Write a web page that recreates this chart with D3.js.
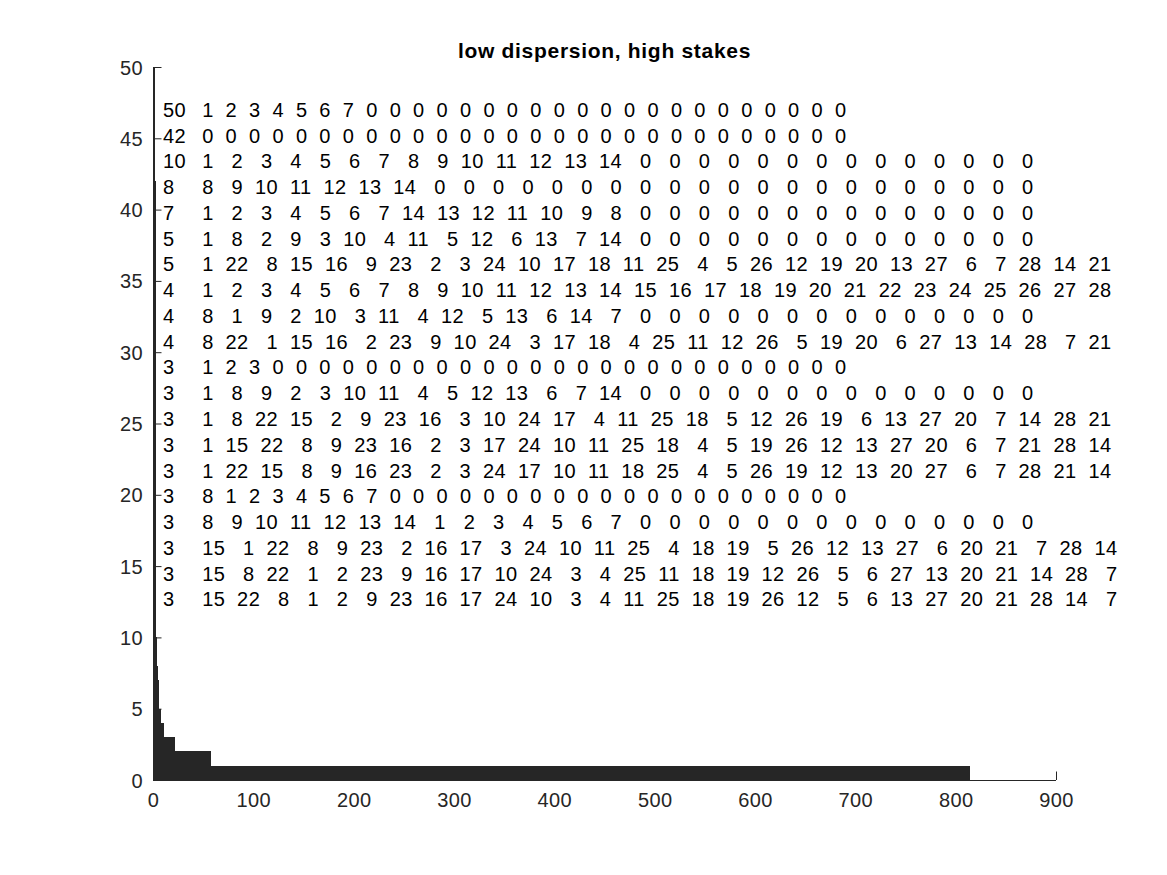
<!DOCTYPE html>
<html>
<head>
<meta charset="utf-8">
<script src="https://cdn.jsdelivr.net/npm/d3@7/dist/d3.min.js"></script>
<style>
body { margin: 0; background: #fff; }
text { font-family: "Liberation Sans", Arial, Helvetica, sans-serif; }
</style>
</head>
<body>
<svg id="chart" width="1167" height="875"></svg>
<script>
const WIDTH  = 1167;
const HEIGHT = 875;
const PLOT = { left: 153, right: 1056, top: 67, bottom: 780 };
const FONTSIZE = "20px";
const SPACING  = "0.4px";

const TITLE = "low dispersion, high stakes";

// sorted bar heights, as runs of [height, how many bars]
const barRuns = [[50,1],[42,1],[10,1],[8,1],[7,1],[5,2],[4,3],[3,11],[2,36],[1,756]];

const xTicks = [0,100,200,300,400,500,600,700,800,900];
const yTicks = [0,5,10,15,20,25,30,35,40,45,50];

// text annotations: count and the ordering vector printed on each row
const rowCounts = [50,42,10,8,7,5,5,4,4,4,3,3,3,3,3,3,3,3,3,3];
const rowOrders = [
    [1,2,3,4,5,6,7,0,0,0,0,0,0,0,0,0,0,0,0,0,0,0,0,0,0,0,0,0],
    [0,0,0,0,0,0,0,0,0,0,0,0,0,0,0,0,0,0,0,0,0,0,0,0,0,0,0,0],
    [1,2,3,4,5,6,7,8,9,10,11,12,13,14,0,0,0,0,0,0,0,0,0,0,0,0,0,0],
    [8,9,10,11,12,13,14,0,0,0,0,0,0,0,0,0,0,0,0,0,0,0,0,0,0,0,0,0],
    [1,2,3,4,5,6,7,14,13,12,11,10,9,8,0,0,0,0,0,0,0,0,0,0,0,0,0,0],
    [1,8,2,9,3,10,4,11,5,12,6,13,7,14,0,0,0,0,0,0,0,0,0,0,0,0,0,0],
    [1,22,8,15,16,9,23,2,3,24,10,17,18,11,25,4,5,26,12,19,20,13,27,6,7,28,14,21],
    [1,2,3,4,5,6,7,8,9,10,11,12,13,14,15,16,17,18,19,20,21,22,23,24,25,26,27,28],
    [8,1,9,2,10,3,11,4,12,5,13,6,14,7,0,0,0,0,0,0,0,0,0,0,0,0,0,0],
    [8,22,1,15,16,2,23,9,10,24,3,17,18,4,25,11,12,26,5,19,20,6,27,13,14,28,7,21],
    [1,2,3,0,0,0,0,0,0,0,0,0,0,0,0,0,0,0,0,0,0,0,0,0,0,0,0,0],
    [1,8,9,2,3,10,11,4,5,12,13,6,7,14,0,0,0,0,0,0,0,0,0,0,0,0,0,0],
    [1,8,22,15,2,9,23,16,3,10,24,17,4,11,25,18,5,12,26,19,6,13,27,20,7,14,28,21],
    [1,15,22,8,9,23,16,2,3,17,24,10,11,25,18,4,5,19,26,12,13,27,20,6,7,21,28,14],
    [1,22,15,8,9,16,23,2,3,24,17,10,11,18,25,4,5,26,19,12,13,20,27,6,7,28,21,14],
    [8,1,2,3,4,5,6,7,0,0,0,0,0,0,0,0,0,0,0,0,0,0,0,0,0,0,0,0],
    [8,9,10,11,12,13,14,1,2,3,4,5,6,7,0,0,0,0,0,0,0,0,0,0,0,0,0,0],
    [15,1,22,8,9,23,2,16,17,3,24,10,11,25,4,18,19,5,26,12,13,27,6,20,21,7,28,14],
    [15,8,22,1,2,23,9,16,17,10,24,3,4,25,11,18,19,12,26,5,6,27,13,20,21,14,28,7],
    [15,22,8,1,2,9,23,16,17,24,10,3,4,11,25,18,19,26,12,5,6,13,27,20,21,28,14,7]
];

document.addEventListener('DOMContentLoaded', function(){
    drawChart();
}, false);

function expandRuns(runs){
    var out = [];
    runs.forEach(function(r){
        for (var i = 0; i < r[1]; i++) out.push(r[0]);
    });
    return out;
}

// matlab num2str style: every entry right aligned in (digits + 2) chars
function rowString(v){
    var m = d3.max(v);
    var d = m > 0 ? Math.floor(Math.log10(m)) + 1 : 1;
    var w = d + 2;
    return v.map(function(n){ return String(n).padStart(w, " "); }).join("").replace(/^\s+/, "");
}

function drawChart(){
    var vis = d3.select("#chart");
    var barValues = expandRuns(barRuns);

    var xRange = d3.scaleLinear().domain([0, 900]).range([PLOT.left, PLOT.right]);
    var yRange = d3.scaleLinear().domain([0, 50]).range([PLOT.bottom, PLOT.top]);

    var axisColor = "#262626";

    var xAxis = d3.axisTop(xRange).tickValues(xTicks).tickSize(8.5).tickFormat(d3.format("d"));
    var yAxis = d3.axisRight(yRange).tickValues(yTicks).tickSize(8.5).tickFormat(d3.format("d"));

    var gx = vis.append("g")
        .attr("transform", "translate(0," + PLOT.bottom + ")")
        .call(xAxis);
    var gy = vis.append("g")
        .attr("transform", "translate(" + PLOT.left + ",0)")
        .call(yAxis);

    [gx, gy].forEach(function(g){
        g.select(".domain").attr("stroke", axisColor).attr("stroke-width", 1);
        g.selectAll(".tick line").attr("stroke", axisColor).attr("stroke-width", 1);
        g.selectAll(".tick text")
            .attr("fill", axisColor)
            .style("font-size", FONTSIZE)
            .style("letter-spacing", SPACING);
    });
    // matlab puts tick labels outside while the ticks point in
    gx.selectAll(".tick text").attr("y", 27).attr("dy", null);
    gy.selectAll(".tick text").attr("x", -10).attr("text-anchor", "end").attr("dy", "0.35em");
    gx.select(".domain").attr("d", "M" + PLOT.left + ",0.5H" + PLOT.right);
    gy.select(".domain").attr("d", "M0.5," + PLOT.top + "V" + PLOT.bottom);

    // bars, width 1 centred on 1..N
    vis.append("g")
        .attr("shape-rendering", "crispEdges")
        .selectAll("rect")
        .data(barValues)
        .enter().append("rect")
        .attr("x", function(d, i){ return xRange(i + 0.5); })
        .attr("width", function(d, i){ return xRange(i + 1.5) - xRange(i + 0.5) + 0.3; })
        .attr("y", function(d){ return yRange(d); })
        .attr("height", function(d){ return yRange(0) - yRange(d); })
        .attr("fill", "#262626");

    // text rows
    var rowY = d3.scaleLinear().domain([0, rowCounts.length - 1]).range([yRange(46.5), yRange(12.18)]);
    var rows = vis.append("g").selectAll("g")
        .data(rowCounts)
        .enter().append("g")
        .attr("transform", function(d, i){ return "translate(0," + rowY(i) + ")"; });

    rows.append("text")
        .attr("x", xRange(10))
        .style("font-size", FONTSIZE)
        .style("letter-spacing", SPACING)
        .attr("fill", "#000")
        .text(function(d){ return d; });

    rows.append("text")
        .attr("x", xRange(49))
        .style("font-size", FONTSIZE)
        .style("letter-spacing", SPACING)
        .style("white-space", "pre")
        .attr("xml:space", "preserve")
        .attr("fill", "#000")
        .text(function(d, i){ return rowString(rowOrders[i]); });

    vis.append("text")
        .attr("x", (PLOT.left + PLOT.right) / 2)
        .attr("y", 57.5)
        .attr("text-anchor", "middle")
        .style("font-size", "21px")
        .style("font-weight", "bold")
        .style("letter-spacing", "0.7px")
        .attr("fill", "#000")
        .text(TITLE);
}
</script>
</body>
</html>
